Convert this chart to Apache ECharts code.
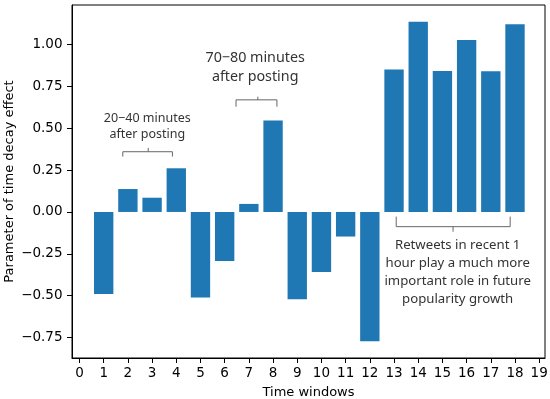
<!DOCTYPE html>
<html>
<head>
<meta charset="utf-8">
<script src="https://cdn.jsdelivr.net/npm/echarts@6/dist/echarts.min.js"></script>
<style>html,body{margin:0;padding:0;background:#fff}#c{width:550px;height:399px}</style>
</head>
<body>
<div id="c"></div>
<script>
const windows = [1,2,3,4,5,6,7,8,9,10,11,12,13,14,15,16,17,18];
const values = [-0.49,0.137,0.085,0.261,-0.512,-0.293,0.048,0.546,-0.522,-0.359,-0.147,-0.773,0.851,1.137,0.843,1.028,0.841,1.122];
const xTicks = [0,1,2,3,4,5,6,7,8,9,10,11,12,13,14,15,16,17,18,19];
const yTicks = [-0.75,-0.5,-0.25,0,0.25,0.5,0.75,1.0];

// annotations (data coords)
const annotText = ['20\u221240 minutes\nafter posting','70\u221280 minutes\nafter posting','Retweets in recent 1\nhour play a much more\nimportant role in future\npopularity growth'];
const annotX = [2.80, 7.26, 15.63];
const annotY = [0.512, 0.864, -0.362];
const annotSize = [12.5, 14.3, 13.2];
const annotLH = [16.5, 19, 18];
// brackets
const bracketX0 = [1.79, 6.47, 13.09];
const bracketX1 = [3.84, 8.16, 17.80];
const bracketXc = [2.84, 7.37, 15.44];
const bracketYLine = [0.36, 0.67, -0.088];
const bracketYEnds = [0.331, 0.629, -0.028];
const bracketYTip = [0.383, 0.689, -0.118];

const chart = echarts.init(document.getElementById('c'), null, {renderer:'canvas'});
const tickFont = {fontFamily:'DejaVu Sans', fontSize:13.5, color:'#000'};
const xMin = -0.31, xMax = 19.24;
const gridW = 550 - 72 - 5;
const option = {
  animation:false,
  grid:{left:72, top:5, right:5, bottom:41, outerBoundsMode:'none', containLabel:false, show:true, borderColor:'#000', borderWidth:1, backgroundColor:'transparent'},
  xAxis:{type:'value', min:xMin, max:xMax,
    name:'Time windows', nameLocation:'middle', nameGap:28, nameMoveOverlap:false,
    nameTextStyle:{fontFamily:'DejaVu Sans', fontSize:13, color:'#000'},
    axisLine:{show:true, onZero:false, lineStyle:{color:'#000'}},
    axisTick:{show:true, length:5, customValues:xTicks, lineStyle:{color:'#000'}},
    axisLabel:Object.assign({customValues:xTicks, margin:8, formatter:v=>String(v)}, tickFont),
    splitLine:{show:false}},
  yAxis:{type:'value', min:-0.873, max:1.237,
    name:'Parameter of time decay effect', nameLocation:'middle', nameGap:56, nameMoveOverlap:false,
    nameTextStyle:{fontFamily:'DejaVu Sans', fontSize:13, color:'#000'},
    axisLine:{show:true, onZero:false, lineStyle:{color:'#000'}},
    axisTick:{show:true, length:5, customValues:yTicks, lineStyle:{color:'#000'}},
    axisLabel:Object.assign({customValues:yTicks, margin:9.5, formatter:v=>(v<0?'\u2212':'')+Math.abs(v).toFixed(2)}, tickFont),
    splitLine:{show:false}},
  series:[{type:'bar', data:windows.map((w,i)=>[w, values[i]]),
    barWidth: 0.8*gridW/(xMax-xMin),
    itemStyle:{color:'#1f77b4'}}]
};
chart.setOption(option);

const g = [];
const px = (x,y)=>chart.convertToPixel({gridIndex:0},[x,y]);
for (let i=0;i<annotText.length;i++){
  const p = px(annotX[i], annotY[i]);
  g.push({type:'text', x:p[0], y:p[1], style:{text:annotText[i], fontFamily:'Noto Sans', fontSize:annotSize[i], fill:'#333', textAlign:'center', textVerticalAlign:'middle', lineHeight:annotLH[i]}});
  const a = px(bracketX0[i], bracketYEnds[i]);
  const b = px(bracketX0[i], bracketYLine[i]);
  const c = px(bracketX1[i], bracketYLine[i]);
  const d = px(bracketX1[i], bracketYEnds[i]);
  g.push({type:'polyline', shape:{points:[a,b,c,d]}, style:{stroke:'#666', lineWidth:1, fill:null}});
  const e = px(bracketXc[i], bracketYLine[i]);
  const f = px(bracketXc[i], bracketYTip[i]);
  g.push({type:'polyline', shape:{points:[e,f]}, style:{stroke:'#666', lineWidth:1, fill:null}});
}
chart.setOption({graphic:g});
</script>
</body>
</html>
